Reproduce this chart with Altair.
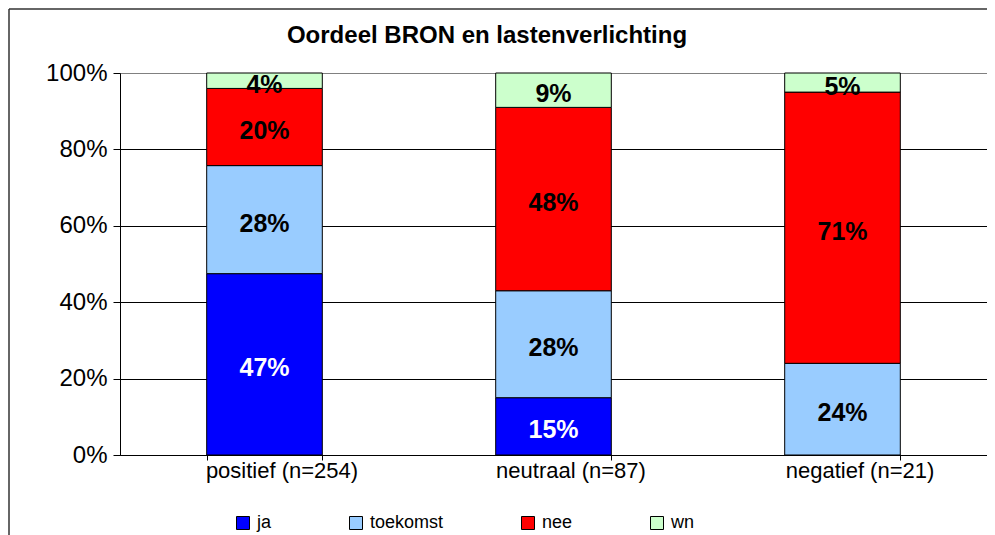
import altair as alt
import pandas as pd

categories = ["positief (n=254)", "neutraal (n=87)", "negatief (n=21)"]
series = ["ja", "toekomst", "nee", "wn"]
ja = [47, 15, 0]
toekomst = [28, 28, 24]
nee = [20, 48, 71]
wn = [4, 9, 5]
colors = ["#0000FF", "#99CCFF", "#FF0000", "#CCFFCC"]
label_colors = ["white", "black", "black", "black"]
y_ticks = [0, 0.2, 0.4, 0.6, 0.8, 1.0]
title_text = "Oordeel BRON en lastenverlichting"

rows = []
for si, (name, vals) in enumerate(zip(series, [ja, toekomst, nee, wn])):
    for c, v in zip(categories, vals):
        rows.append({"cat": c, "serie": name, "order": si, "value": v,
                     "label": f"{v}%", "lc": label_colors[si]})
df = pd.DataFrame(rows)

FONT = "Liberation Sans"

base = alt.Chart(df).transform_stack(
    stack="value", groupby=["cat"], as_=["y0", "y1"],
    sort=[alt.SortField("order", order="ascending")], offset="normalize"
).transform_filter("datum.value > 0").transform_calculate(mid="(datum.y0 + datum.y1) / 2")

x_enc = alt.X("cat:N", sort=categories,
              scale=alt.Scale(paddingInner=0.6, paddingOuter=0.3),
              axis=alt.Axis(title=None, labelAngle=0, labelFontSize=22, labelFont=FONT,
                            labelColor="black", tickBand="extent", tickSize=5,
                            tickColor="black", domainColor="black", labelPadding=0,
                            labelOffset=17, grid=False))

y_axis = alt.Axis(title=None, values=y_ticks, format="%", labelFontSize=24, labelFont=FONT,
                  labelColor="black", tickSize=7, tickColor="black", domainColor="black",
                  labelPadding=6, gridColor=alt.condition("datum.value >= 1", alt.value("#808080"), alt.value("black")),
                  gridWidth=1)

bars = base.mark_bar(stroke="black", strokeWidth=1).encode(
    x=x_enc,
    y=alt.Y("y0:Q", scale=alt.Scale(domain=[0, 1], nice=False), axis=y_axis),
    y2="y1:Q",
    color=alt.Color("serie:N", scale=alt.Scale(domain=series, range=colors),
                    legend=alt.Legend(title=None, orient="none", legendX=114, legendY=441,
                                      direction="horizontal", symbolType="square",
                                      symbolSize=169, symbolStrokeColor="black",
                                      symbolStrokeWidth=1, symbolOpacity=1,
                                      labelFontSize=18, labelFont=FONT, labelColor="black",
                                      columnPadding=75, labelOffset=5, padding=0)),
    order=alt.Order("order:Q"),
)

labels = base.mark_text(fontSize=25, fontWeight="bold", font=FONT, baseline="middle", dy=4).encode(
    x=alt.X("cat:N", sort=categories),
    y=alt.Y("mid:Q"),
    text="label:N",
    color=alt.Color("lc:N", scale=None),
)

frame_df = pd.DataFrame({"k": [0]})
title_df = pd.DataFrame({"t": [title_text]})
frame_top = alt.Chart(frame_df).mark_rule(color="#333333", strokeWidth=1.5).encode(
    x=alt.value(-111), x2=alt.value(900), y=alt.value(-64))
frame_left = alt.Chart(frame_df).mark_rule(color="#333333", strokeWidth=1.5).encode(
    x=alt.value(-111), y=alt.value(-64), y2=alt.value(600))
title = alt.Chart(title_df).mark_text(fontSize=24, font=FONT, fontWeight="bold", color="black",
                                       align="center", baseline="alphabetic").encode(
    x=alt.value(367), y=alt.value(-30), text="t:N")

chart = alt.layer(bars, labels, frame_top, frame_left, title).properties(
    width=867, height=382,
    padding={"left": 112, "top": 65, "right": 0, "bottom": 90},
    autosize="none",
).configure_view(stroke="#808080", strokeWidth=1)

chart.save("out.html", embed_options={"renderer": "svg", "actions": False})
